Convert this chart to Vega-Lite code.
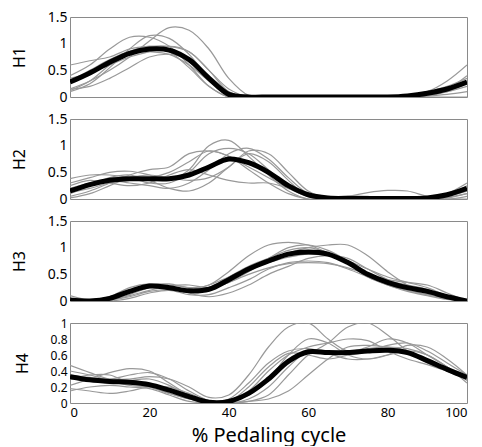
{
"$schema": "https://vega.github.io/schema/vega-lite/v6.json",
"padding": {"left": 10, "top": 9, "right": 5, "bottom": 0},
"bounds": "flush",
"spacing": 22,
"config": {"font": "Noto Sans", "view": {"stroke": "#8a8a8a", "strokeWidth": 1}, "axis": {"grid": false, "domain": false, "ticks": false, "labelFontSize": 14, "labelColor": "#000", "titleFontWeight": "normal", "titleColor": "#000", "labelPadding": 3}},
"datasets": {"d": [
{"p":"H1","x":0,"m":0.28,"a":0.6,"b":0.4,"c":0.15,"d":0.1,"e":0.3,"f":0.15,"g":0.35,"h":0.12},
{"p":"H1","x":5,"m":0.45,"a":0.68,"b":0.6,"c":0.3,"d":0.25,"e":0.5,"f":0.2,"g":0.45,"h":0.3},
{"p":"H1","x":10,"m":0.65,"a":0.75,"b":0.9,"c":0.5,"d":0.55,"e":0.7,"f":0.35,"g":0.6,"h":0.6},
{"p":"H1","x":15,"m":0.82,"a":0.9,"b":1.12,"c":0.75,"d":0.9,"e":0.85,"f":0.55,"g":0.75,"h":0.85},
{"p":"H1","x":20,"m":0.9,"a":0.95,"b":1.12,"c":1.05,"d":1.15,"e":0.85,"f":0.75,"g":0.85,"h":0.95},
{"p":"H1","x":25,"m":0.88,"a":0.95,"b":0.95,"c":1.3,"d":1.1,"e":0.8,"f":0.8,"g":0.95,"h":0.85},
{"p":"H1","x":30,"m":0.7,"a":0.85,"b":0.6,"c":1.25,"d":0.8,"e":0.6,"f":0.7,"g":0.85,"h":0.55},
{"p":"H1","x":35,"m":0.35,"a":0.5,"b":0.2,"c":0.9,"d":0.35,"e":0.3,"f":0.4,"g":0.5,"h":0.2},
{"p":"H1","x":40,"m":0.05,"a":0.15,"b":0,"c":0.35,"d":0.05,"e":0.05,"f":0.1,"g":0.1,"h":0},
{"p":"H1","x":45,"m":0,"a":0,"b":0,"c":0.03,"d":0,"e":0,"f":0,"g":0,"h":0},
{"p":"H1","x":50,"m":0,"a":0,"b":0,"c":0,"d":0,"e":0,"f":0,"g":0,"h":0},
{"p":"H1","x":55,"m":0,"a":0,"b":0,"c":0,"d":0,"e":0,"f":0,"g":0,"h":0},
{"p":"H1","x":60,"m":0,"a":0,"b":0,"c":0,"d":0,"e":0,"f":0,"g":0,"h":0},
{"p":"H1","x":65,"m":0,"a":0,"b":0,"c":0,"d":0,"e":0,"f":0,"g":0,"h":0},
{"p":"H1","x":70,"m":0,"a":0,"b":0,"c":0,"d":0,"e":0,"f":0,"g":0,"h":0},
{"p":"H1","x":75,"m":0,"a":0,"b":0,"c":0,"d":0,"e":0,"f":0,"g":0,"h":0},
{"p":"H1","x":80,"m":0,"a":0,"b":0,"c":0,"d":0,"e":0,"f":0,"g":0,"h":0},
{"p":"H1","x":85,"m":0.02,"a":0.02,"b":0,"c":0,"d":0.03,"e":0.02,"f":0,"g":0.03,"h":0},
{"p":"H1","x":90,"m":0.07,"a":0.1,"b":0.05,"c":0.02,"d":0.1,"e":0.05,"f":0.02,"g":0.08,"h":0},
{"p":"H1","x":95,"m":0.15,"a":0.3,"b":0.15,"c":0.1,"d":0.2,"e":0.1,"f":0.05,"g":0.15,"h":0},
{"p":"H1","x":100,"m":0.28,"a":0.6,"b":0.4,"c":0.25,"d":0.35,"e":0.2,"f":0.1,"g":0.3,"h":0},
{"p":"H2","x":0,"m":0.15,"a":0.38,"b":0.3,"c":0.05,"d":0.2,"e":0.02,"f":0.25,"g":0.1,"h":0.12},
{"p":"H2","x":5,"m":0.27,"a":0.45,"b":0.4,"c":0.15,"d":0.3,"e":0.1,"f":0.35,"g":0.25,"h":0.2},
{"p":"H2","x":10,"m":0.35,"a":0.45,"b":0.5,"c":0.3,"d":0.35,"e":0.25,"f":0.3,"g":0.4,"h":0.3},
{"p":"H2","x":15,"m":0.38,"a":0.4,"b":0.52,"c":0.45,"d":0.3,"e":0.4,"f":0.25,"g":0.45,"h":0.35},
{"p":"H2","x":20,"m":0.38,"a":0.3,"b":0.45,"c":0.55,"d":0.25,"e":0.45,"f":0.3,"g":0.35,"h":0.4},
{"p":"H2","x":25,"m":0.38,"a":0.3,"b":0.35,"c":0.6,"d":0.2,"e":0.4,"f":0.45,"g":0.2,"h":0.5},
{"p":"H2","x":30,"m":0.45,"a":0.5,"b":0.55,"c":0.85,"d":0.3,"e":0.35,"f":0.55,"g":0.15,"h":0.7},
{"p":"H2","x":35,"m":0.6,"a":0.85,"b":1.0,"c":0.9,"d":0.55,"e":0.4,"f":0.45,"g":0.3,"h":0.9},
{"p":"H2","x":40,"m":0.75,"a":0.95,"b":1.1,"c":0.8,"d":0.85,"e":0.6,"f":0.35,"g":0.6,"h":0.8},
{"p":"H2","x":45,"m":0.68,"a":0.85,"b":0.8,"c":0.55,"d":0.95,"e":0.9,"f":0.3,"g":0.85,"h":0.6},
{"p":"H2","x":50,"m":0.5,"a":0.55,"b":0.45,"c":0.3,"d":0.75,"e":0.85,"f":0.3,"g":0.7,"h":0.4},
{"p":"H2","x":55,"m":0.25,"a":0.25,"b":0.15,"c":0.1,"d":0.4,"e":0.5,"f":0.2,"g":0.35,"h":0.2},
{"p":"H2","x":60,"m":0.08,"a":0.05,"b":0,"c":0,"d":0.1,"e":0.15,"f":0.05,"g":0.05,"h":0.05},
{"p":"H2","x":65,"m":0.02,"a":0,"b":0,"c":0,"d":0,"e":0.02,"f":0.03,"g":0,"h":0},
{"p":"H2","x":70,"m":0.01,"a":0,"b":0,"c":0,"d":0,"e":0.05,"f":0.06,"g":0,"h":0},
{"p":"H2","x":75,"m":0.01,"a":0,"b":0,"c":0,"d":0,"e":0.12,"f":0.05,"g":0,"h":0},
{"p":"H2","x":80,"m":0.01,"a":0,"b":0,"c":0,"d":0,"e":0.16,"f":0.02,"g":0,"h":0},
{"p":"H2","x":85,"m":0.01,"a":0,"b":0,"c":0,"d":0,"e":0.15,"f":0,"g":0,"h":0},
{"p":"H2","x":90,"m":0.02,"a":0,"b":0,"c":0,"d":0,"e":0.05,"f":0,"g":0,"h":0},
{"p":"H2","x":95,"m":0.08,"a":0.08,"b":0.02,"c":0,"d":0.1,"e":0,"f":0.03,"g":0.05,"h":0.05},
{"p":"H2","x":100,"m":0.2,"a":0.25,"b":0.1,"c":0,"d":0.3,"e":0.05,"f":0.1,"g":0.15,"h":0.2},
{"p":"H3","x":0,"m":0.02,"a":0.05,"b":0,"c":0.1,"d":0,"e":0.05,"f":0,"g":0.02,"h":0},
{"p":"H3","x":5,"m":0,"a":0,"b":0,"c":0.02,"d":0,"e":0.02,"f":0,"g":0,"h":0},
{"p":"H3","x":10,"m":0.05,"a":0.05,"b":0.02,"c":0.05,"d":0,"e":0.08,"f":0.02,"g":0.05,"h":0.02},
{"p":"H3","x":15,"m":0.18,"a":0.2,"b":0.1,"c":0.2,"d":0.05,"e":0.25,"f":0.12,"g":0.15,"h":0.08},
{"p":"H3","x":20,"m":0.28,"a":0.3,"b":0.2,"c":0.3,"d":0.15,"e":0.32,"f":0.25,"g":0.25,"h":0.18},
{"p":"H3","x":25,"m":0.25,"a":0.32,"b":0.28,"c":0.28,"d":0.2,"e":0.28,"f":0.3,"g":0.25,"h":0.22},
{"p":"H3","x":30,"m":0.19,"a":0.25,"b":0.3,"c":0.2,"d":0.12,"e":0.15,"f":0.25,"g":0.22,"h":0.2},
{"p":"H3","x":35,"m":0.22,"a":0.3,"b":0.25,"c":0.25,"d":0.12,"e":0.08,"f":0.2,"g":0.3,"h":0.22},
{"p":"H3","x":40,"m":0.4,"a":0.55,"b":0.35,"c":0.45,"d":0.25,"e":0.15,"f":0.4,"g":0.45,"h":0.35},
{"p":"H3","x":45,"m":0.6,"a":0.85,"b":0.55,"c":0.65,"d":0.4,"e":0.3,"f":0.6,"g":0.6,"h":0.5},
{"p":"H3","x":50,"m":0.75,"a":1.05,"b":0.75,"c":0.8,"d":0.6,"e":0.5,"f":0.8,"g":0.72,"h":0.62},
{"p":"H3","x":55,"m":0.88,"a":1.1,"b":0.9,"c":0.95,"d":0.72,"e":0.65,"f":1.0,"g":0.82,"h":0.7},
{"p":"H3","x":60,"m":0.92,"a":1.05,"b":1.0,"c":1.0,"d":0.75,"e":0.8,"f":1.05,"g":0.88,"h":0.72},
{"p":"H3","x":65,"m":0.88,"a":0.9,"b":1.05,"c":0.9,"d":0.72,"e":0.85,"f":0.95,"g":0.85,"h":0.7},
{"p":"H3","x":70,"m":0.72,"a":0.7,"b":1.05,"c":0.7,"d":0.6,"e":0.8,"f":0.75,"g":0.75,"h":0.62},
{"p":"H3","x":75,"m":0.5,"a":0.45,"b":0.85,"c":0.5,"d":0.45,"e":0.6,"f":0.5,"g":0.6,"h":0.5},
{"p":"H3","x":80,"m":0.35,"a":0.3,"b":0.55,"c":0.4,"d":0.3,"e":0.4,"f":0.3,"g":0.45,"h":0.38},
{"p":"H3","x":85,"m":0.25,"a":0.2,"b":0.3,"c":0.35,"d":0.2,"e":0.25,"f":0.18,"g":0.35,"h":0.3},
{"p":"H3","x":90,"m":0.18,"a":0.12,"b":0.15,"c":0.3,"d":0.12,"e":0.15,"f":0.1,"g":0.25,"h":0.22},
{"p":"H3","x":95,"m":0.08,"a":0.05,"b":0.05,"c":0.15,"d":0.05,"e":0.05,"f":0.03,"g":0.1,"h":0.1},
{"p":"H3","x":100,"m":0,"a":0,"b":0,"c":0,"d":0,"e":0,"f":0,"g":0.02,"h":0},
{"p":"H4","x":0,"m":0.33,"a":0.47,"b":0.22,"c":0.35,"d":0.18,"e":0.3,"f":0.4,"g":0.15,"h":0.3},
{"p":"H4","x":5,"m":0.29,"a":0.38,"b":0.3,"c":0.32,"d":0.15,"e":0.35,"f":0.35,"g":0.2,"h":0.28},
{"p":"H4","x":10,"m":0.27,"a":0.3,"b":0.38,"c":0.3,"d":0.12,"e":0.35,"f":0.28,"g":0.22,"h":0.25},
{"p":"H4","x":15,"m":0.26,"a":0.3,"b":0.43,"c":0.35,"d":0.15,"e":0.25,"f":0.22,"g":0.2,"h":0.28},
{"p":"H4","x":20,"m":0.23,"a":0.33,"b":0.4,"c":0.38,"d":0.2,"e":0.2,"f":0.2,"g":0.18,"h":0.3},
{"p":"H4","x":25,"m":0.16,"a":0.3,"b":0.25,"c":0.3,"d":0.2,"e":0.12,"f":0.12,"g":0.1,"h":0.22},
{"p":"H4","x":30,"m":0.08,"a":0.2,"b":0.1,"c":0.15,"d":0.12,"e":0.05,"f":0.05,"g":0.02,"h":0.08},
{"p":"H4","x":35,"m":0.01,"a":0.07,"b":0.02,"c":0.03,"d":0.03,"e":0,"f":0.02,"g":0,"h":0},
{"p":"H4","x":40,"m":0.02,"a":0.1,"b":0,"c":0,"d":0.02,"e":0.05,"f":0.02,"g":0,"h":0.02},
{"p":"H4","x":45,"m":0.12,"a":0.35,"b":0.05,"c":0.02,"d":0.15,"e":0.25,"f":0.1,"g":0.02,"h":0.2},
{"p":"H4","x":50,"m":0.3,"a":0.7,"b":0.2,"c":0.1,"d":0.4,"e":0.5,"f":0.3,"g":0.05,"h":0.45},
{"p":"H4","x":55,"m":0.52,"a":0.95,"b":0.45,"c":0.35,"d":0.6,"e":0.65,"f":0.6,"g":0.15,"h":0.62},
{"p":"H4","x":60,"m":0.64,"a":1.0,"b":0.65,"c":0.6,"d":0.7,"e":0.68,"f":0.8,"g":0.35,"h":0.6},
{"p":"H4","x":65,"m":0.63,"a":0.8,"b":0.65,"c":0.75,"d":0.75,"e":0.62,"f":0.75,"g":0.55,"h":0.55},
{"p":"H4","x":70,"m":0.63,"a":0.65,"b":0.6,"c":0.95,"d":0.8,"e":0.55,"f":0.6,"g":0.7,"h":0.6},
{"p":"H4","x":75,"m":0.65,"a":0.7,"b":0.65,"c":1.0,"d":0.78,"e":0.55,"f":0.55,"g":0.72,"h":0.68},
{"p":"H4","x":80,"m":0.66,"a":0.8,"b":0.72,"c":0.85,"d":0.65,"e":0.6,"f":0.6,"g":0.7,"h":0.7},
{"p":"H4","x":85,"m":0.63,"a":0.75,"b":0.75,"c":0.65,"d":0.55,"e":0.65,"f":0.72,"g":0.65,"h":0.68},
{"p":"H4","x":90,"m":0.53,"a":0.6,"b":0.65,"c":0.5,"d":0.48,"e":0.6,"f":0.7,"g":0.55,"h":0.6},
{"p":"H4","x":95,"m":0.42,"a":0.45,"b":0.5,"c":0.4,"d":0.4,"e":0.45,"f":0.55,"g":0.4,"h":0.45},
{"p":"H4","x":100,"m":0.32,"a":0.3,"b":0.35,"c":0.3,"d":0.32,"e":0.25,"f":0.35,"g":0.3,"h":0.28}
]},
"vconcat": [
{"width": 397, "height": 80, "data": {"name": "d"},
 "transform": [{"filter": "datum.p === 'H1'"}, {"fold": ["a","b","c","d","e","f","g","h","m"], "as": ["s","v"]}],
 "encoding": {"x": {"field": "x", "type": "quantitative", "scale": {"domain": [0, 100], "nice": false}, "axis": {"labels": false, "title": null}},
  "y": {"field": "v", "type": "quantitative", "scale": {"domain": [0, 1.5], "nice": false}, "axis": {"values": [0, 0.5, 1, 1.5], "format": "~g", "title": "H1", "titleFontSize": 16, "titlePadding": 20, "labelOverlap": false}},
  "detail": {"field": "s"}},
 "layer": [
  {"transform": [{"filter": "datum.s !== 'm'"}], "mark": {"type": "line", "interpolate": "catmull-rom", "color": "#999999", "strokeWidth": 1.2, "clip": true}},
  {"transform": [{"filter": "datum.s === 'm'"}], "mark": {"type": "line", "interpolate": "catmull-rom", "color": "#000000", "strokeWidth": 5, "clip": true}}
 ]},
{"width": 397, "height": 80, "data": {"name": "d"},
 "transform": [{"filter": "datum.p === 'H2'"}, {"fold": ["a","b","c","d","e","f","g","h","m"], "as": ["s","v"]}],
 "encoding": {"x": {"field": "x", "type": "quantitative", "scale": {"domain": [0, 100], "nice": false}, "axis": {"labels": false, "title": null}},
  "y": {"field": "v", "type": "quantitative", "scale": {"domain": [0, 1.5], "nice": false}, "axis": {"values": [0, 0.5, 1, 1.5], "format": "~g", "title": "H2", "titleFontSize": 16, "titlePadding": 20, "labelOverlap": false}},
  "detail": {"field": "s"}},
 "layer": [
  {"transform": [{"filter": "datum.s !== 'm'"}], "mark": {"type": "line", "interpolate": "catmull-rom", "color": "#999999", "strokeWidth": 1.2, "clip": true}},
  {"transform": [{"filter": "datum.s === 'm'"}], "mark": {"type": "line", "interpolate": "catmull-rom", "color": "#000000", "strokeWidth": 5, "clip": true}}
 ]},
{"width": 397, "height": 80, "data": {"name": "d"},
 "transform": [{"filter": "datum.p === 'H3'"}, {"fold": ["a","b","c","d","e","f","g","h","m"], "as": ["s","v"]}],
 "encoding": {"x": {"field": "x", "type": "quantitative", "scale": {"domain": [0, 100], "nice": false}, "axis": {"labels": false, "title": null}},
  "y": {"field": "v", "type": "quantitative", "scale": {"domain": [0, 1.5], "nice": false}, "axis": {"values": [0, 0.5, 1, 1.5], "format": "~g", "title": "H3", "titleFontSize": 16, "titlePadding": 20, "labelOverlap": false}},
  "detail": {"field": "s"}},
 "layer": [
  {"transform": [{"filter": "datum.s !== 'm'"}], "mark": {"type": "line", "interpolate": "catmull-rom", "color": "#999999", "strokeWidth": 1.2, "clip": true}},
  {"transform": [{"filter": "datum.s === 'm'"}], "mark": {"type": "line", "interpolate": "catmull-rom", "color": "#000000", "strokeWidth": 5, "clip": true}}
 ]},
{"width": 397, "height": 80, "data": {"name": "d"},
 "transform": [{"filter": "datum.p === 'H4'"}, {"fold": ["a","b","c","d","e","f","g","h","m"], "as": ["s","v"]}],
 "encoding": {"x": {"field": "x", "type": "quantitative", "scale": {"domain": [0, 100], "nice": false}, "axis": {"values": [0, 20, 40, 60, 80, 100], "title": "% Pedaling cycle", "titleFontSize": 20, "titlePadding": 22, "titleBaseline": "alphabetic", "labelPadding": 3, "labelFontSize": 13}},
  "y": {"field": "v", "type": "quantitative", "scale": {"domain": [0, 1], "nice": false}, "axis": {"values": [0, 0.2, 0.4, 0.6, 0.8, 1], "format": "~g", "title": "H4", "titleFontSize": 16, "titlePadding": 20, "labelFontSize": 12, "labelOverlap": false}},
  "detail": {"field": "s"}},
 "layer": [
  {"transform": [{"filter": "datum.s !== 'm'"}], "mark": {"type": "line", "interpolate": "catmull-rom", "color": "#999999", "strokeWidth": 1.2, "clip": true}},
  {"transform": [{"filter": "datum.s === 'm'"}], "mark": {"type": "line", "interpolate": "catmull-rom", "color": "#000000", "strokeWidth": 5, "clip": true}}
 ]}
]
}
